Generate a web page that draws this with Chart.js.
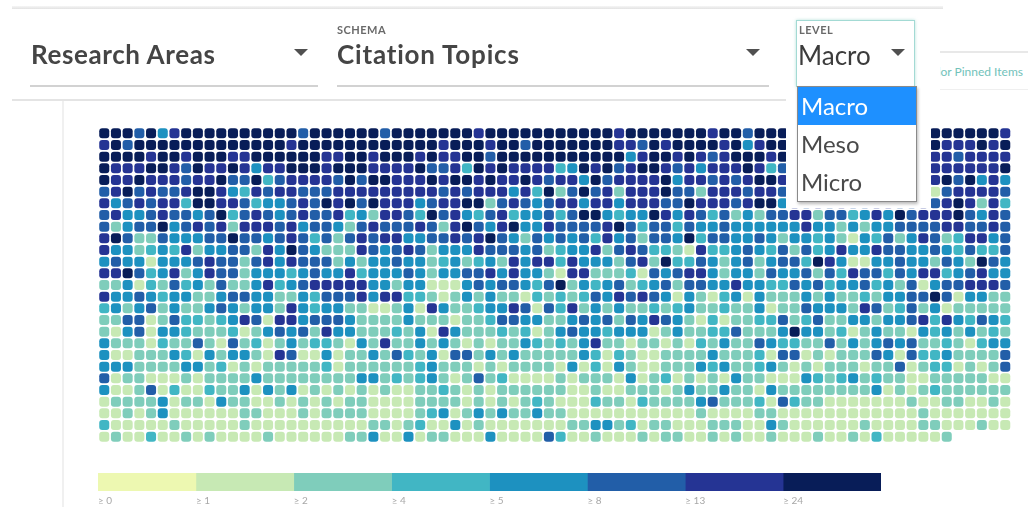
<!DOCTYPE html>
<html>
<head>
<meta charset="utf-8">
<script src="https://cdn.jsdelivr.net/npm/chart.js@4.4.1/dist/chart.umd.min.js"></script>
<style>
  body { margin:0; width:1028px; height:507px; overflow:hidden; background:#fff; position:relative; font-family:Lato, 'Noto Sans', sans-serif; }
  .abs { position:absolute; }
  .big { font-size:26px; font-weight:700; color:#454545; line-height:30px; white-space:nowrap; letter-spacing:0.6px; }
  .cap { font-size:11px; font-weight:700; color:#6a6a6a; letter-spacing:0.5px; line-height:13px; }
  .arrow { width:0; height:0; border-left:7px solid transparent; border-right:7px solid transparent; border-top:7px solid #505050; }
  .uline { height:2px; background:#d2d2d2; }
  .opt { height:38px; line-height:38px; padding-left:3px; font-size:24px; color:#4a4a4a; }
</style>
</head>
<body>
<canvas id="grid" class="abs" width="1028" height="507" style="left:0;top:0"></canvas>
<canvas id="legend" class="abs" width="804" height="34" style="left:94px;top:473px"></canvas>

<!-- header -->
<div class="abs" style="left:12px;top:6px;width:931px;height:3px;background:linear-gradient(#f6f6f6,#e2e2e2)"></div>
<div class="abs big" style="left:31px;top:39px">Research Areas</div>
<div class="abs arrow" style="left:294px;top:49px"></div>
<div class="abs uline" style="left:30px;top:85px;width:288px"></div>

<div class="abs cap" style="left:337px;top:23px">SCHEMA</div>
<div class="abs big" style="left:337px;top:39px;letter-spacing:0.8px">Citation Topics</div>
<div class="abs arrow" style="left:746px;top:49px"></div>
<div class="abs uline" style="left:337px;top:85px;width:432px"></div>

<div class="abs" style="left:12px;top:99px;width:774px;height:2px;background:#e4e4e4"></div>
<div class="abs" style="left:62px;top:101px;width:2px;height:406px;background:#f0f0f0"></div>

<!-- dropdown backdrop -->
<div class="abs" style="left:786px;top:90px;width:145px;height:118px;background:#fff"></div>

<div class="abs" style="left:796px;top:20px;width:117px;height:65px;border:1px solid #a3dad4;box-shadow:0 0 3px rgba(120,200,190,.55);background:#fff"></div>
<div class="abs cap" style="left:799px;top:23px">LEVEL</div>
<div class="abs big" style="left:798px;top:40px;font-weight:400;letter-spacing:0;color:#3c3c3c">Macro</div>
<div class="abs arrow" style="left:891px;top:49px"></div>

<div class="abs" style="left:797px;top:86px;width:118px;border:1px solid #8a8a8a;box-shadow:1px 2px 3px rgba(0,0,0,.28);background:#fff">
  <div class="opt" style="background:#1e90ff;color:#fff">Macro</div>
  <div class="opt">Meso</div>
  <div class="opt">Micro</div>
</div>

<!-- right side control -->
<div class="abs" style="left:940px;top:50px;width:6px;height:16px;overflow:hidden">
  <div style="margin-left:-6px;font-size:15px;color:#777;line-height:16px">G</div>
</div>
<div class="abs" style="left:940px;top:51px;width:88px;height:36px;border-top:2px solid #e8e8e8;border-bottom:1px solid #efefef;overflow:hidden;background:#fff">
  <div style="margin-left:-17px;margin-top:11px;font-size:12px;color:#72c2ba;white-space:nowrap">Color Pinned Items</div>
</div>

<script>
// colour bins (YlGnBu) and their labels
const legendLabels = ['≥ 0', '≥ 1', '≥ 2', '≥ 4', '≥ 5', '≥ 8', '≥ 13', '≥ 24'];
const palette = ['#edf8b1', '#c7e9b4', '#7fcdbb', '#41b6c4', '#1d91c0', '#225ea8', '#253494', '#081d58'];

// bin index per cell, one string per row (spaces only for reading)
const cellRows = [
  "7775746777 7777777577 7777577777 776777777 7777767777 7776775777 7777777777 777777776",
  "6757777777 7777776777 7777777776 777677577 7777766576 7777674677 7777777777 777666767",
  "7777677677 7667777776 6776777676 677577777 7777774677 6765677767 7776777677 776656666",
  "7666776576 6764667776 7776666755 637676666 3476756776 5646667635 6667666766 676666667",
  "7667666566 7557356666 5757766676 776766765 6647566667 4665656776 6656675667 566757464",
  "5675655677 6436566555 6666666665 656664637 2575626667 5526665665 5656566565 651566665",
  "6456566377 6653445657 6757666456 677256545 6646646665 5766656774 6565655665 565676263",
  "5644565545 7356545655 6342665375 643563445 3577434476 4653524255 6625534647 566675465",
  "5245574565 6266656455 4256555652 675467446 5555675355 3544544444 4644242445 555665565",
  "6752254445 5755456535 2565664455 656754254 5453645255 4735544542 4434214352 465236645",
  "6442343624 4552647542 2265456524 446555452 3446256533 2163345435 2534644655 445435335",
  "4544144456 5525646555 2424454423 423426466 3644425627 3354245245 5376411445 442542754",
  "6675346246 5524443454 4634445424 455646442 1662223154 5664244254 4525365535 466345644",
  "2241325342 5224634566 6664424411 145455435 7243452345 2554464433 5453445342 514556665",
  "6445434422 4554422435 5564663321 242422132 3235465654 1421341422 2424223244 557514422",
  "3424524224 5424426434 4221124164 223446515 3624242232 3422322412 2544426523 524122222",
  "2255125332 3465166455 5422224222 122355442 2454525465 4213122335 2352244244 563643543",
  "2145144322 2312454526 4422232416 422232312 4544344412 4223352224 7442312422 143424232",
  "4222132252 1523124233 2142622424 212122432 3246221221 2132422543 3225242454 522321344",
  "4112224314 2442165114 1224253241 552424222 2243132112 2224222315 5121222541 533422225",
  "4442222442 3121222223 1222222342 221212222 1413142112 2243422342 1212221225 123312125",
  "5122111212 2224222222 2244232342 125231111 2122214123 1212142211 1432342322 112222211",
  "4112513113 2241424121 2121211223 212122222 2112112221 2422422142 2222222412 123222222",
  "1222241221 4221121212 1221111222 212121232 1113221322 2245222315 3221111111 211221121",
  "1121241111 1122111212 2221111234 124242242 2111111111 1121111221 1111111111 121111111",
  "3111112111 1121111111 1112212311 412111111 1224423122 1112221142 1111112111 122111211",
  "1211311212 1111211111 1224114122 111411115 3112111212 2112121121 1121121311 1112"
];

const cells = [];
cellRows.forEach(function(row, r) {
  row.replace(/[^0-7]/g, '').split('').forEach(function(ch, c) {
    cells.push({x: c, y: r, v: parseInt(ch)});
  });
});

new Chart(document.getElementById('grid'), {
  type: 'scatter',
  data: {
    datasets: [{
      data: cells,
      pointStyle: 'rectRounded',
      pointRadius: 5.85,
      pointHoverRadius: 5.85,
      pointBorderWidth: 0,
      pointBackgroundColor: ctx => palette[ctx.raw ? ctx.raw.v : 0],
      clip: false
    }]
  },
  options: {
    responsive: false, animation: false, devicePixelRatio: 1, events: [],
    layout: { padding: { left: 98.4, top: 127.5, right: 16.9, bottom: 64.5 } },
    plugins: { legend: { display: false }, tooltip: { enabled: false } },
    scales: {
      x: { type: 'linear', min: -0.5, max: 77.5, display: false },
      y: { type: 'linear', min: -0.5, max: 26.5, reverse: true, display: false }
    }
  }
});

new Chart(document.getElementById('legend'), {
  type: 'bar',
  data: {
    labels: [''],
    datasets: legendLabels.map((l, i) => ({
      label: l, data: [1], backgroundColor: palette[i],
      barPercentage: 1, categoryPercentage: 1, borderWidth: 0
    }))
  },
  options: {
    indexAxis: 'y', responsive: false, animation: false, devicePixelRatio: 1, events: [],
    layout: { padding: { left: 0, right: 17, top: 0, bottom: 0 } },
    plugins: { legend: { display: false }, tooltip: { enabled: false } },
    scales: {
      x: {
        type: 'linear', stacked: true, min: 0, max: legendLabels.length,
        grid: { display: false, drawTicks: false }, border: { display: false },
        ticks: {
          stepSize: 1, autoSkip: false, align: 'start', padding: 4, color: '#a8a8a8',
          font: { family: 'Lato', size: 10 },
          callback: v => legendLabels[v] || ''
        },
        afterFit: s => { s.height = 16; }
      },
      y: { stacked: true, display: false }
    }
  }
});
</script>
</body>
</html>
